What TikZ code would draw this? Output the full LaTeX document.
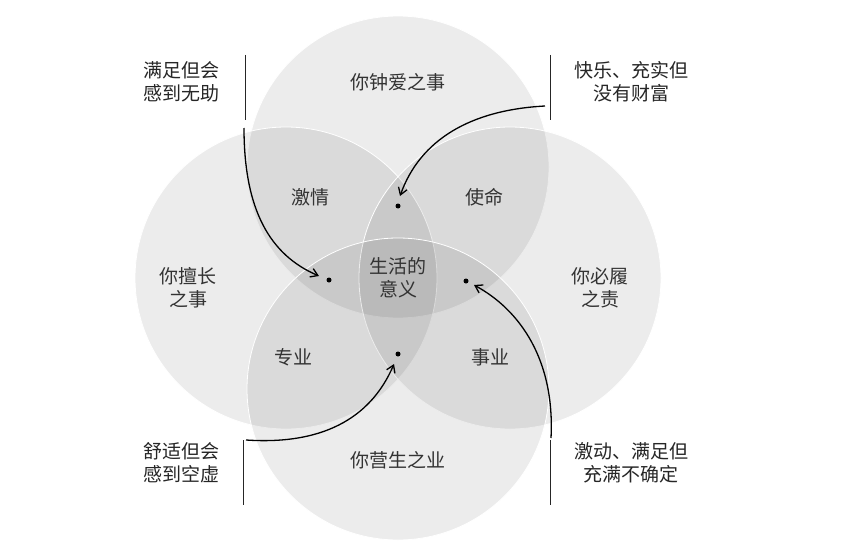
\documentclass[tikz,border=0pt]{standalone}
\usepackage{fontspec}
\setmainfont{Noto Sans CJK SC}
\usetikzlibrary{arrows.meta}

\tikzset{
  ring/.style={draw=white, line width=0.8pt, fill=black, fill opacity=0.075},
  word/.style={font=\fontsize{19}{23}\selectfont, text=black!80, align=center},
  note/.style={font=\fontsize{19}{23}\selectfont, text=black!85, align=center},
  bar/.style={line width=0.9pt, black!85},
  pointer/.style={line width=1.3pt, -{Straight Barb[length=7pt,width=9pt]}},
  spot/.style={circle, fill=black, inner sep=0pt, minimum size=5pt}
}

\begin{document}
\begin{tikzpicture}[x=1pt,y=-1pt]
\useasboundingbox (0,0) rectangle (846,551);
% four circles
\fill[white] (0,0) rectangle (846,551);
\path[ring] (398,167) circle (151);
\path[ring] (286,278) circle (151);
\path[ring] (510,278) circle (151);
\path[ring] (398,389) circle (151);
% labels
\node[word] (love) at (398,82) {你钟爱之事};
\node[word] (good) at (188,288) {你擅长\\之事};
\node[word] (need) at (600,288) {你必履\\之责};
\node[word] (paid) at (398,460) {你营生之业};
\node[word] (passion) at (310,197) {激情};
\node[word] (mission) at (484,197) {使命};
\node[word] (profession) at (293,357) {专业};
\node[word] (vocation) at (490,357) {事业};
\node[word] (ikigai) at (398,278) {生活的\\意义};
% dots
\node[spot] (dtop) at (398,206) {};
\node[spot] (dleft) at (329,280) {};
\node[spot] (dright) at (466,281) {};
\node[spot] (dbottom) at (398,354) {};
% notes
\node[note] (nw) at (181,82) {满足但会\\感到无助};
\node[note] (ne) at (631,82) {快乐、充实但\\没有财富};
\node[note] (sw) at (181,463) {舒适但会\\感到空虚};
\node[note] (se) at (631,463) {激动、满足但\\充满不确定};
\draw[bar] (245,55) -- (245,120);
\draw[bar] (550,55) -- (550,120);
\draw[bar] (243,440) -- (243,505);
\draw[bar] (550,440) -- (550,505);
% arrows
\coordinate (anw) at (244,128);
\coordinate (ane) at (545,106);
\coordinate (asw) at (246,440);
\coordinate (ase) at (551,438);
\draw[pointer] (anw) .. controls (244,210) and (270,255) .. ([shift={(-10,-4)}]dleft.center);
\draw[pointer] (ane) .. controls (470,110) and (420,140) .. ([shift={(2,-10)}]dtop.center);
\draw[pointer] (asw) .. controls (320,445) and (370,420) .. ([shift={(-4,10)}]dbottom.center);
\draw[pointer] (ase) .. controls (555,360) and (520,310) .. ([shift={(8,4)}]dright.center);
\end{tikzpicture}
\end{document}
